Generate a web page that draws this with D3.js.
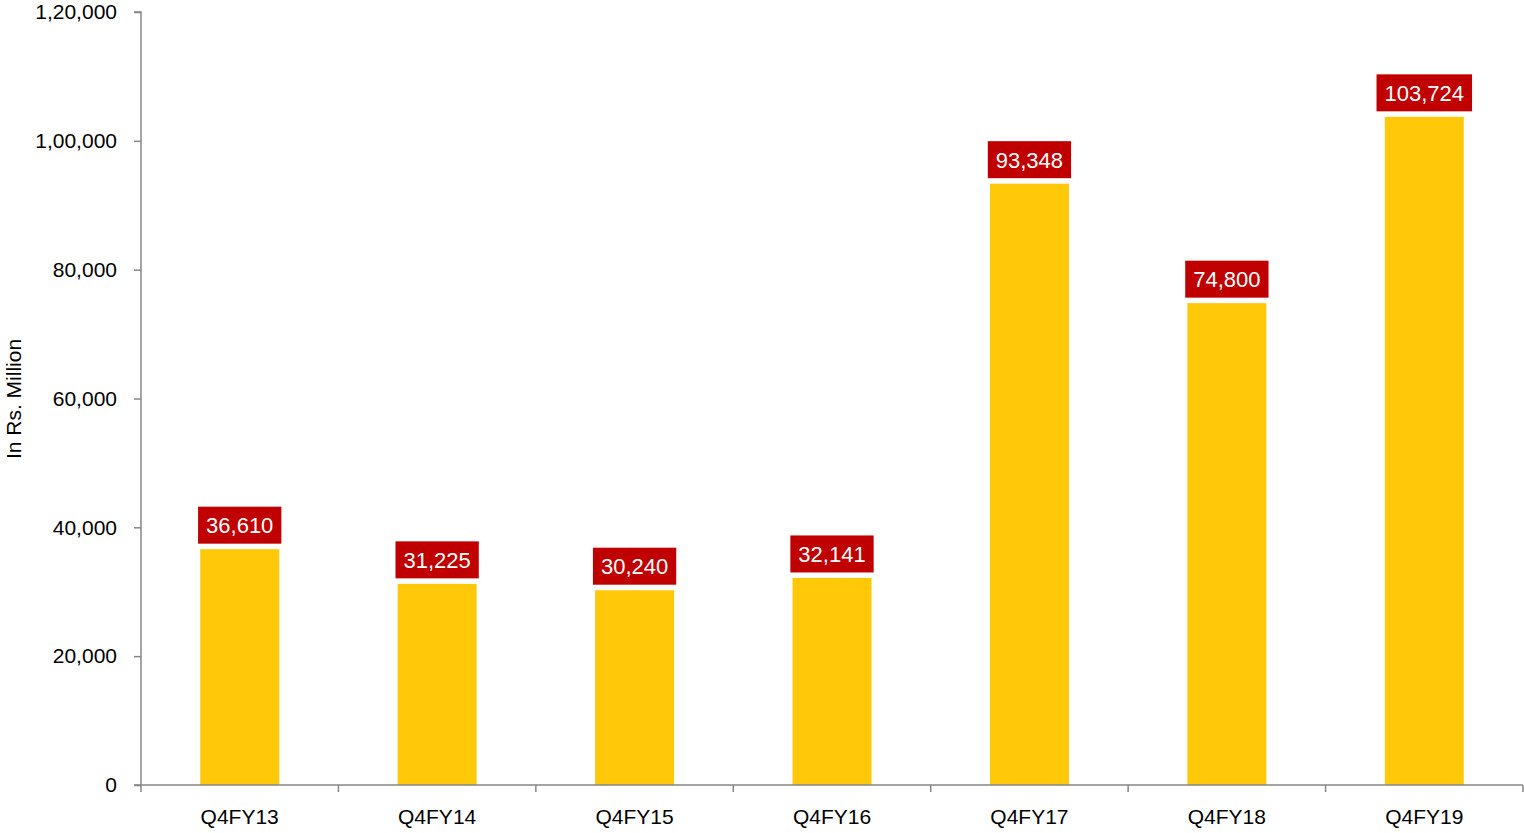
<!DOCTYPE html>
<html><head><meta charset="utf-8">
<script src="https://cdn.jsdelivr.net/npm/d3@7"></script>
<style>body{margin:0;background:#fff}svg{display:block}text{font-family:"Liberation Sans",Arial,sans-serif}</style>
</head><body><svg id="c" width="1524" height="833"></svg>
<script>
const categories = ["Q4FY13","Q4FY14","Q4FY15","Q4FY16","Q4FY17","Q4FY18","Q4FY19"];
const values = [36610,31225,30240,32141,93348,74800,103724];
const yTicks = [0,20000,40000,60000,80000,100000,120000];
const yTitle = "In Rs. Million";

(function(){
const svg = d3.select("#c");
const mL = 141, mR = 1523, mT = 12, mB = 785;
const x = d3.scaleBand().domain(categories).range([mL, mR]).paddingInner(0.6).paddingOuter(0.3);
const y = d3.scaleLinear().domain([0,120000]).range([mB, mT]);
const fmtIn = d3.formatLocale({decimal:".", thousands:",", grouping:[3,2], currency:["",""]}).format(",d");
const fmt = d3.format(",d");
const axisColor = "#868686";

// y axis
const ya = svg.append("g").attr("transform",`translate(${mL},0)`)
  .call(d3.axisLeft(y).tickValues(yTicks).tickFormat(fmtIn).tickSize(7).tickPadding(17));
ya.select(".domain").attr("stroke",axisColor).attr("stroke-width",1.5).attr("d",`M-7,${mT}H0V${mB}H-7`);
ya.selectAll(".tick line").attr("stroke",axisColor).attr("stroke-width",1.5);
ya.selectAll(".tick text").attr("font-size",21).attr("fill","#000").attr("font-family","Liberation Sans, Arial, sans-serif");

// bars
svg.append("g").selectAll("rect").data(values).join("rect")
  .attr("x",(d,i)=>x(categories[i])).attr("width",x.bandwidth())
  .attr("y",d=>y(d)).attr("height",d=>mB-y(d))
  .attr("fill","#FFC90A");

// x axis
const xTickPos = d3.range(categories.length+1).map(i=>mL + i*(mR-mL)/categories.length);
const xa = svg.append("g");
xa.append("line").attr("x1",mL).attr("x2",mR).attr("y1",mB).attr("y2",mB).attr("stroke",axisColor).attr("stroke-width",1.5);
xa.selectAll("line.t").data(xTickPos).join("line").attr("class","t")
  .attr("x1",d=>d).attr("x2",d=>d).attr("y1",mB).attr("y2",mB+7).attr("stroke",axisColor).attr("stroke-width",1.5);
xa.selectAll("text").data(categories).join("text")
  .attr("x",d=>x(d)+x.bandwidth()/2).attr("y",824).attr("text-anchor","middle")
  .attr("font-size",21).attr("fill","#000").text(d=>d);

// labels
const lg = svg.append("g").selectAll("g").data(values).join("g");
lg.each(function(d,i){
  const g = d3.select(this);
  const cx = x(categories[i]) + x.bandwidth()/2;
  const yb = y(d) - 5.5;
  const t = g.append("text").attr("x",cx).attr("y",yb-10.5).attr("text-anchor","middle")
    .attr("font-size",22).attr("fill","#fff").text(fmt(d));
  const w = t.node().getComputedTextLength() + 16;
  g.insert("rect","text").attr("x",cx-w/2).attr("width",w).attr("y",yb-37).attr("height",37).attr("fill","#C00000");
});

// y title
svg.append("text").attr("transform","translate(21,399) rotate(-90)").attr("text-anchor","middle")
  .attr("font-size",21).attr("fill","#000").text(yTitle);
})();
</script></body></html>
